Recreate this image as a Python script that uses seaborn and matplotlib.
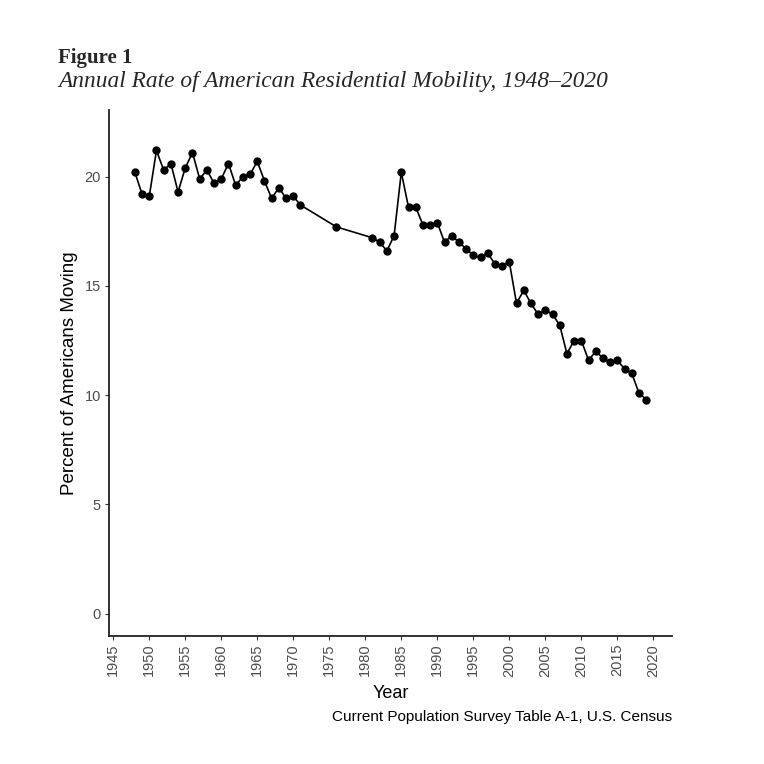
import matplotlib
matplotlib.use("Agg")
import matplotlib.pyplot as plt
import seaborn as sns
import pandas as pd
import numpy as np

years = list(range(1948, 1972)) + [1976] + list(range(1981, 2020))
percent_moving = [
    20.2, 19.2, 19.1, 21.2, 20.3, 20.6, 19.3, 20.4, 21.1, 19.9, 20.3, 19.7,
    19.9, 20.6, 19.6, 20.0, 20.1, 20.7, 19.8, 19.0, 19.5, 19.0, 19.1, 18.7,
    17.7,
    17.2, 17.0, 16.6, 17.3, 20.2, 18.6, 18.6, 17.8, 17.8, 17.9, 17.0, 17.3,
    17.0, 16.7, 16.4, 16.3, 16.5, 16.0, 15.9, 16.1, 14.2, 14.8, 14.2, 13.7,
    13.9, 13.7, 13.2, 11.9, 12.5, 12.5, 11.6, 12.0, 11.7, 11.5, 11.6, 11.2,
    11.0, 10.1, 9.8,
]
x_ticks = list(range(1945, 2021, 5))
y_ticks = [0, 5, 10, 15, 20]

df = pd.DataFrame({"Year": years, "Percent": percent_moving})

sns.set_theme(style="white")
plt.rcParams["font.family"] = ["Liberation Sans", "DejaVu Sans"]

W = H = 764
fig = plt.figure(figsize=(W / 100, H / 100), dpi=100)
left, right, top, bottom = 109.3, 671.7, 110.0, 635.5
ax = fig.add_axes([left / W, 1 - bottom / H, (right - left) / W, (bottom - top) / H])

sns.lineplot(data=df, x="Year", y="Percent", ax=ax, color="black",
             linewidth=1.2, marker="o", markersize=6.0, markeredgewidth=0,
             markerfacecolor="black")

ax.set_xlim(1944.45, 2022.55)
ax.set_ylim(-1.0, 23.05)
ax.set_xticks(x_ticks)
ax.set_xticklabels([str(t) for t in x_ticks], rotation=90)
ax.set_yticks(y_ticks)
for s in ["top", "right"]:
    ax.spines[s].set_visible(False)
for s in ["left", "bottom"]:
    ax.spines[s].set_color("#222222")
    ax.spines[s].set_linewidth(1.3)
ax.tick_params(axis="both", which="major", length=3.0, width=0.8,
               color="#333333", labelcolor="#4d4d4d", labelsize=10.5,
               direction="out", bottom=True, left=True, pad=3)
ax.set_xlabel("Year", fontsize=13, color="black")
ax.xaxis.set_label_coords(0.5, (bottom - 684.5) / (bottom - top))
ax.set_ylabel("Percent of Americans Moving", fontsize=13.5, color="black")
ax.yaxis.set_label_coords((78.5 - left) / (right - left), 0.5)
ax.grid(False)

fig.text(671.7 / W, 1 - 717 / H, "Current Population Survey Table A-1, U.S. Census",
         ha="right", va="center", fontsize=11, color="black")

fig.text(58 / W, 1 - 63 / H, "Figure 1", ha="left", va="baseline",
         fontsize=15, fontweight="bold", family=["Liberation Serif", "DejaVu Serif"])
fig.text(58 / W, 1 - 87.5 / H, "Annual Rate of American Residential Mobility, 1948\u20132020",
         ha="left", va="baseline", fontsize=16.8, fontstyle="italic",
         family=["Liberation Serif", "DejaVu Serif"])

fig.savefig("out.png", dpi=100, facecolor="white")
